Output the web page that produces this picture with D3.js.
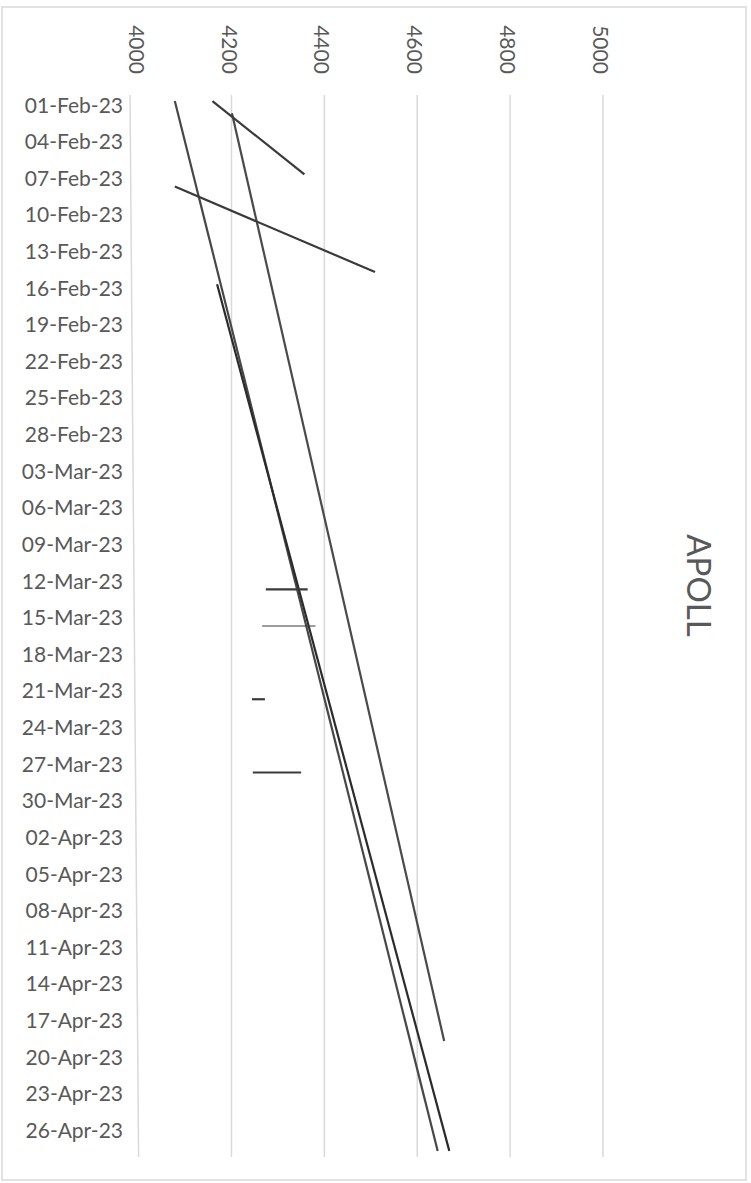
<!DOCTYPE html>
<html>
<head>
<meta charset="utf-8">
<script src="https://cdn.jsdelivr.net/npm/d3@7"></script>
<style>
  body { margin: 0; background: #fff; }
  svg { display: block; font-family: Lato, "Liberation Sans", sans-serif; }
</style>
</head>
<body>
<div id="chart"></div>
<script>
const width = 751;
const height = 1183;

/*******************************/
/*            Data             */
/*******************************/
const chartTitle = "APOLL";
const valueTicks = [4000, 4200, 4400, 4600, 4800, 5000];
const dateLabels = [
  "01-Feb-23", "04-Feb-23", "07-Feb-23", "10-Feb-23", "13-Feb-23", "16-Feb-23",
  "19-Feb-23", "22-Feb-23", "25-Feb-23", "28-Feb-23", "03-Mar-23", "06-Mar-23",
  "09-Mar-23", "12-Mar-23", "15-Mar-23", "18-Mar-23", "21-Mar-23", "24-Mar-23",
  "27-Mar-23", "30-Mar-23", "02-Apr-23", "05-Apr-23", "08-Apr-23", "11-Apr-23",
  "14-Apr-23", "17-Apr-23", "20-Apr-23", "23-Apr-23", "26-Apr-23"
];
const firstDay = "2023-02-01";
const lastDay = "2023-04-28";

// Trend lines
const trendNames = ["t1", "t2", "t3", "t4", "t5"];
const trendStartDates = ["2023-02-01", "2023-02-02", "2023-02-16", "2023-02-01", "2023-02-08"];
const trendStartValues = [4078, 4201, 4169, 4159, 4078];
const trendEndDates = ["2023-04-28", "2023-04-19", "2023-04-28", "2023-02-07", "2023-02-15"];
const trendEndValues = [4644, 4658, 4669, 4357, 4509];

// Single-day ranges
const rangeNames = ["r1", "r2", "r3", "r4"];
const rangeDates = ["2023-03-13", "2023-03-16", "2023-03-22", "2023-03-28"];
const rangeLows = [4274, 4266, 4244, 4246];
const rangeHighs = [4364, 4381, 4272, 4350];

// Category axis line (drifts off the 4000 line towards the top)
const baselineDates = ["2023-02-01", "2023-04-28"];
const baselineValues = [3981.5, 4000];

/*******************************/
/*           Styles            */
/*******************************/
const lineStyles = {
  t1: { color: "#474747", width: 2.2 },
  t2: { color: "#4a4a4a", width: 2.2 },
  t3: { color: "#2b2b2b", width: 2.2 },
  t4: { color: "#3a3a3a", width: 2.2 },
  t5: { color: "#3a3a3a", width: 2.2 },
  r1: { color: "#3a3a3a", width: 2.2 },
  r2: { color: "#3a3a3a", width: 1.2 },
  r3: { color: "#3a3a3a", width: 2.2 },
  r4: { color: "#3a3a3a", width: 2.2 }
};

const parseDay = d3.utcParse("%Y-%m-%d");
const parseLabel = d3.utcParse("%d-%b-%y");

/*******************************/
/*           Scales            */
/*******************************/
const xScale = d3.scaleLinear()
  .domain([4000, 5000])
  .range([138.6, 603]);

// Each day occupies one slot, dates sit in the middle of their slot
const yScale = d3.scaleUtc()
  .domain([d3.utcHour.offset(parseDay(firstDay), -12), d3.utcHour.offset(parseDay(lastDay), 12)])
  .range([95, 1157]);

/*******************************/
/*        The container        */
/*******************************/
const svg = d3.select("#chart")
  .append("svg")
    .attr("width", width)
    .attr("height", height)
    .attr("viewBox", `0 0 ${width} ${height}`);

svg
  .append("rect")
    .attr("x", 2)
    .attr("y", 7)
    .attr("width", 744)
    .attr("height", 1173)
    .attr("fill", "#fff")
    .attr("stroke", "#d9d9d9")
    .attr("stroke-width", 1.5);

/*******************************/
/*          Gridlines          */
/*******************************/
svg
  .append("g")
    .attr("class", "grid")
  .selectAll("line")
  .data(valueTicks.filter(v => v > 4000))
  .join("line")
    .attr("x1", d => xScale(d))
    .attr("x2", d => xScale(d))
    .attr("y1", yScale.range()[0])
    .attr("y2", yScale.range()[1])
    .attr("stroke", "#d9d9d9")
    .attr("stroke-width", 1.5);

svg
  .append("line")
    .attr("class", "baseline")
    .attr("x1", xScale(baselineValues[0]))
    .attr("x2", xScale(baselineValues[1]))
    .attr("y1", yScale.range()[0])
    .attr("y2", yScale.range()[1])
    .attr("stroke", "#d9d9d9")
    .attr("stroke-width", 1.5);

/*******************************/
/*            Axes             */
/*******************************/
// Date axis on the left
const leftAxis = d3.axisLeft(yScale)
  .tickValues(dateLabels.map(parseLabel))
  .tickFormat(d3.utcFormat("%d-%b-%y"))
  .tickSize(0)
  .tickPadding(7);

svg
  .append("g")
    .attr("class", "axis-y")
    .attr("transform", "translate(130, 0)")
    .call(leftAxis)
    .call(g => g.select(".domain").remove())
    .call(g => g.selectAll("text")
      .attr("dy", "0.52em")
      .attr("fill", "#595959")
      .style("font-size", "21px")
      .style("font-family", "Lato, 'Liberation Sans', sans-serif"));

// Value labels on top, turned a quarter clockwise
svg
  .append("g")
    .attr("class", "axis-x")
  .selectAll("text")
  .data(valueTicks)
  .join("text")
    .attr("transform", d => `translate(${xScale(d) - 2.4}, 49.5) rotate(90)`)
    .attr("text-anchor", "middle")
    .attr("dy", "0.36em")
    .attr("fill", "#595959")
    .style("font-size", "21px")
    .text(d => d);

/*******************************/
/*            Lines            */
/*******************************/
const trends = trendNames.map((name, i) => ({
  name,
  x1: trendStartValues[i], y1: parseDay(trendStartDates[i]),
  x2: trendEndValues[i], y2: parseDay(trendEndDates[i])
}));

const ranges = rangeNames.map((name, i) => ({
  name,
  x1: rangeLows[i], y1: parseDay(rangeDates[i]),
  x2: rangeHighs[i], y2: parseDay(rangeDates[i])
}));

svg
  .append("g")
    .attr("class", "marks")
  .selectAll("line")
  .data([...trends, ...ranges])
  .join("line")
    .attr("x1", d => xScale(d.x1))
    .attr("y1", d => yScale(d.y1))
    .attr("x2", d => xScale(d.x2))
    .attr("y2", d => yScale(d.y2))
    .attr("stroke", d => lineStyles[d.name].color)
    .attr("stroke-width", d => lineStyles[d.name].width);

/*******************************/
/*            Title            */
/*******************************/
svg
  .append("text")
    .attr("class", "title")
    .attr("transform", "translate(699, 585.5) rotate(90)")
    .attr("text-anchor", "middle")
    .attr("dy", "0.36em")
    .attr("fill", "#595959")
    .style("font-size", "33px")
    .text(chartTitle);
</script>
</body>
</html>
